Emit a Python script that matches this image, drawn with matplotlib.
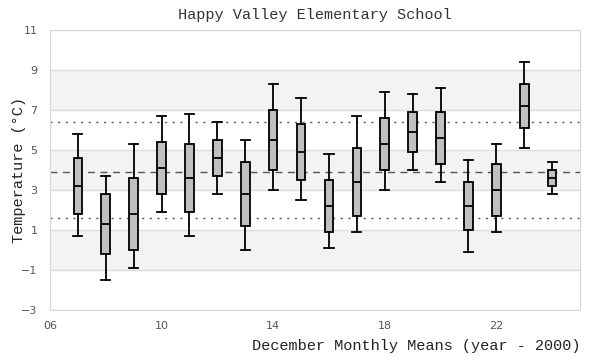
import numpy as np
import matplotlib.pyplot as plt

# december monthly means per year (year - 2000)
years = [7, 8, 9, 10, 11, 12, 13, 14, 15, 16, 17, 18, 19, 20, 21, 22, 23, 24]
whisk_lo = [0.7, -1.5, -0.9, 1.9, 0.7, 2.8, 0.0, 3.0, 2.5, 0.1, 0.9, 3.0, 4.0, 3.4, -0.1, 0.9, 5.1, 2.8]
q1 = [1.8, -0.2, 0.0, 2.8, 1.9, 3.7, 1.2, 4.0, 3.5, 0.9, 1.7, 4.0, 4.9, 4.3, 1.0, 1.7, 6.1, 3.2]
median = [3.2, 1.3, 1.8, 4.1, 3.6, 4.6, 2.8, 5.5, 4.9, 2.2, 3.4, 5.3, 5.9, 5.6, 2.2, 3.0, 7.2, 3.6]
q3 = [4.6, 2.8, 3.6, 5.4, 5.3, 5.5, 4.4, 7.0, 6.3, 3.5, 5.1, 6.6, 6.9, 6.9, 3.4, 4.3, 8.3, 4.0]
whisk_hi = [5.8, 3.7, 5.3, 6.7, 6.8, 6.4, 5.5, 8.3, 7.6, 4.8, 6.7, 7.9, 7.8, 8.1, 4.5, 5.3, 9.4, 4.4]

mean_line = 3.9
sigma_lines = [6.4, 1.6]

x_ticks = [6, 10, 14, 18, 22]
x_labels = ["06", "10", "14", "18", "22"]
y_ticks = [-3, -1, 1, 3, 5, 7, 9, 11]
bands = [(7, 9), (3, 5), (-1, 1)]

mono = ["Liberation Mono", "DejaVu Sans Mono"]

fig = plt.figure(figsize=(6, 3.6), dpi=100)
ax = fig.add_axes([50 / 600, 1 - 310 / 360, 530 / 600, 280 / 360])

for lo, hi in bands:
    ax.axhspan(lo, hi, color="#f3f3f3", zorder=0, lw=0)
for y in y_ticks:
    ax.axhline(y, color="#dddddd", lw=1, zorder=1)

ax.axhline(mean_line, color="#555555", lw=1, ls=(0, (5, 4)), zorder=2)
for y in sigma_lines:
    ax.axhline(y, color="#555555", lw=1, ls=(0, (1.5, 4)), zorder=2)

stats = []
for i in range(len(years)):
    stats.append({"whislo": whisk_lo[i], "q1": q1[i], "med": median[i],
                  "q3": q3[i], "whishi": whisk_hi[i], "fliers": []})

ax.bxp(stats, positions=years, widths=0.31, patch_artist=True,
       showfliers=False, manage_ticks=False,
       boxprops=dict(facecolor="#c0c0c0", edgecolor="black", lw=1.3),
       medianprops=dict(color="black", lw=1.3),
       whiskerprops=dict(color="black", lw=1.3),
       capprops=dict(color="black", lw=1.3), capwidths=0.33,
       zorder=3)

ax.set_xlim(6, 25)
ax.set_ylim(-3, 11)
ax.set_xticks(x_ticks)
ax.set_xticklabels(x_labels)
ax.set_yticks(y_ticks)
ax.tick_params(length=0, labelsize=8, labelcolor="#555555")
ax.tick_params(axis="y", pad=9)
ax.tick_params(axis="x", pad=8)
for s in ax.spines.values():
    s.set_color("#d8d8d8")

ax.set_title("Happy Valley Elementary School", family=mono, fontsize=11,
             color="#333333", pad=8)
ax.set_xlabel("December Monthly Means (year - 2000)", family=mono,
              fontsize=11, color="#222222", loc="right", labelpad=6)
ax.set_ylabel("Temperature (°C)", family=mono, fontsize=11,
              color="#222222")
ax.yaxis.set_label_coords(-24 / 530, 0.5)

fig.savefig("out.png", dpi=100)
